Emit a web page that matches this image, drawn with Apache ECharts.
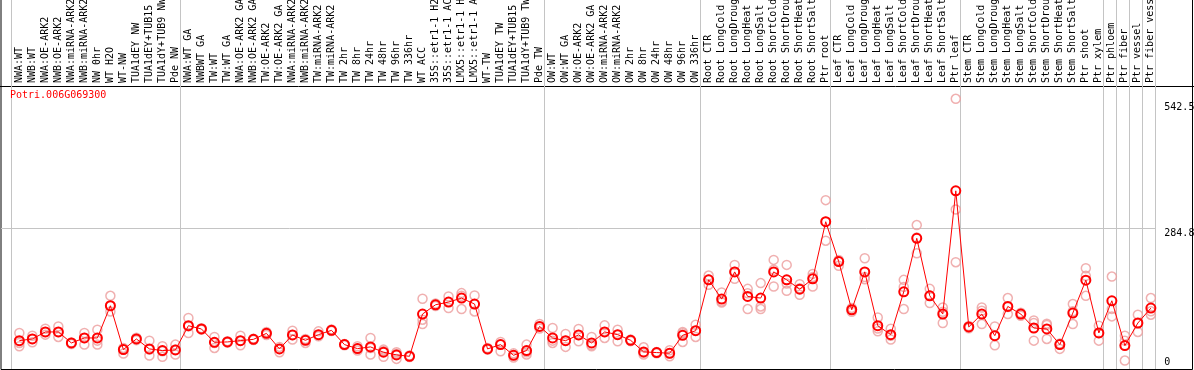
<!DOCTYPE html>
<html>
<head>
<meta charset="utf-8">
<title>Potri.006G069300</title>
<script src="https://cdn.jsdelivr.net/npm/echarts@6.0.0/dist/echarts.min.js"></script>
<style>
  html, body { margin: 0; padding: 0; background: #fff; }
  #main { width: 1194px; height: 370px; }
</style>
</head>
<body>
<div id="main"></div>
<script>
// sample names, in drawing order
var sampleNames = ['NWA:WT', 'NWB:WT', 'NWA:OE-ARK2', 'NWB:OE-ARK2', 'NWA:miRNA-ARK2', 'NWB:miRNA-ARK2', 'NW 0hr', 'WT H2O', 'WT-NW', 'TUA1dEY NW', 'TUA1dEY+TUB15 NW', 'TUA1dY+TUB9 NW', 'Pde NW',
	'NWA:WT GA', 'NWBWT GA', 'TW:WT', 'TW:WT GA', 'NWA:OE-ARK2 GA', 'NWB:OE-ARK2 GA', 'TW:OE-ARK2', 'TW:OE-ARK2 GA', 'NWA:miRNA-ARK2 GA', 'NWB:miRNA-ARK2 GA', 'TW:miRNA-ARK2', 'TW:miRNA-ARK2 GA',
	'TW 2hr', 'TW 8hr', 'TW 24hr', 'TW 48hr', 'TW 96hr', 'TW 336hr', 'WT ACC', '35S::etr1-1 H2O', '35S::etr1-1 ACC', 'LMX5::etr1-1 H2O', 'LMX5::etr1-1 ACC', 'WT-TW', 'TUA1dEY TW', 'TUA1dEY+TUB15 TW', 'TUA1dY+TUB9 TW', 'Pde TW',
	'OW:WT', 'OW:WT GA', 'OW:OE-ARK2', 'OW:OE-ARK2 GA', 'OW:miRNA-ARK2', 'OW:miRNA-ARK2 GA', 'OW 2hr', 'OW 8hr', 'OW 24hr', 'OW 48hr', 'OW 96hr', 'OW 336hr',
	'Root CTR', 'Root LongCold', 'Root LongDrought', 'Root LongHeat', 'Root LongSalt', 'Root ShortCold', 'Root ShortDrought', 'Root ShortHeat', 'Root ShortSalt', 'Ptr root',
	'Leaf CTR', 'Leaf LongCold', 'Leaf LongDrought', 'Leaf LongHeat', 'Leaf LongSalt', 'Leaf ShortCold', 'Leaf ShortDrought', 'Leaf ShortHeat', 'Leaf ShortSalt', 'Ptr leaf',
	'Stem CTR', 'Stem LongCold', 'Stem LongDrought', 'Stem LongHeat', 'Stem LongSalt', 'Stem ShortCold', 'Stem ShortDrought', 'Stem ShortHeat', 'Stem ShortSalt', 'Ptr shoot', 'Ptr xylem',
	'Ptr phloem', 'Ptr fiber', 'Ptr vessel', 'Ptr fiber vessel'];

// index of the first sample of every block (last one = end)
var groupStarts = [0, 13, 41, 53, 63, 73, 84, 85, 86, 87, 88];

// mean expression per sample
var meanValues = [55, 58.5, 72.8, 72.8, 50.3, 60.5, 60.5, 126.4, 36.7, 58.5, 38.1, 34.7, 36,
	85.6, 78.9, 51.6, 52.4, 55, 57.7, 69.9, 38.1, 66.6, 55.7, 67.3, 76.1,
	46.9, 38.7, 42.2, 31.3, 25.8, 23, 109.4, 128.4, 133.9, 142.1, 129.9, 38.1, 46.9, 25.1, 34.7, 84.2,
	60.5, 55, 66.6, 50.3, 72.8, 67.3, 55.7, 32, 30.6, 29.2, 65.9, 75.4,
	179.4, 140, 195.7, 145.4, 142.1, 195.7, 179.4, 160.4, 181.4, 298.3,
	216.7, 118.2, 195.7, 85.6, 67.3, 154.9, 264.4, 146.8, 109.4, 361.5,
	83, 109.4, 65.2, 125, 109.4, 80.9, 78.9, 46.9, 111.5, 178.8, 70.7,
	136.6, 44.9, 91.1, 121.7];

// single replicates per sample
var replicates = [
	[70.7, 50.3, 43.5], [65.2, 58.5, 51.6], [79.5, 72.8, 67.3], [84.2, 72.8, 62.6], [51, 50.3, 48.3], [70.7, 60.5, 46.9], [77.5, 55, 46.9],
	[146.8, 126.4, 114.8], [40.1, 36.7, 28.5], [61, 58.5, 56], [55, 36.7, 24.5], [43.5, 33.3, 22.1], [46.9, 36.7, 26.5],
	[101.3, 84.2, 70.7], [80.5, 78.9, 77.5], [62.6, 50.3, 40.1], [54, 52.4, 51], [65.2, 55, 45.5], [59, 57.7, 56.5], [72.8, 69.9, 66.6],
	[42.2, 38.1, 31.3], [75.4, 66.6, 57.1], [58.5, 55.7, 50.3], [74, 67.3, 63.8], [78, 76.1, 74.8],
	[48.3, 46.9, 45.5], [43.5, 38.7, 34.7], [60.5, 40, 26.5], [36.7, 34, 22], [31.3, 28, 17.7], [24.5, 23, 21.5],
	[140.7, 97.9, 89], [131, 128.4, 125.7], [145.4, 133.9, 121.7], [152.3, 146.8, 119.7], [147.4, 129.9, 114.8],
	[40, 38.1, 36.7], [52.4, 46.9, 33.2], [29, 25.1, 20.5], [46.9, 31.3, 26.5], [88.9, 84.2, 80],
	[80.9, 55, 50.3], [68.7, 55, 42.2], [78.9, 66.6, 53.6], [62.6, 46, 43.5], [86.3, 72.8, 60.5], [77.5, 67.3, 53.6],
	[57.1, 55.7, 54], [41.4, 30, 26.5], [32, 30.6, 29.2], [35.3, 29.2, 23], [72.8, 70, 52.4], [87.7, 75.4, 62.6],
	[188.2, 180, 169.2], [153.5, 135, 133.1], [210, 196, 181.4], [161, 152, 119.7], [172.7, 125, 119.7],
	[220.2, 200, 165.8], [210, 172, 157], [170.6, 162, 148.8], [191.6, 185, 165.8], [342.5, 298.3, 259.5],
	[220, 216.7, 208], [122, 118.2, 114], [223.6, 185, 180.8], [102.5, 80, 74], [79.5, 65, 57.1],
	[179.4, 165, 119.7], [291.5, 266, 233.8], [161, 146.8, 131.9], [122.9, 114, 91.1], [549.8, 323.5, 215.5],
	[85, 83, 80.5], [122.9, 116, 89], [84.2, 65.2, 45.5], [142.1, 124, 109.4], [112, 109.4, 106],
	[96.4, 91, 55], [89.7, 87, 58.5], [49, 46.9, 38.1], [129.9, 115, 89], [203.3, 187.6, 146.8], [85.6, 70.7, 55],
	[186.1, 120, 104.6], [65.2, 55, 14.3], [108.1, 91.1, 72.8], [142.1, 115, 108.1]];

var yTicks = [284.8, 542.5];
var geneName = 'Potri.006G069300';

var FONT = 'DejaVu Sans Mono';
var OFF = 0.66;       // separators sit a bit left of the sample column
var xMin = -1.41;
var xMax = 88 - OFF;
var yMin = -3, yMax = 576;

var sampleIdx = sampleNames.map(function(n, i) { return i; });
var separators = groupStarts.map(function(k) { return k - OFF; });

var repPoints = [];
replicates.forEach(function(r, i) {
	r.forEach(function(v) { repPoints.push([i, v]); });
});

var myChart = echarts.init(document.getElementById('main'));
myChart.setOption({
	animation: false,
	backgroundColor: '#fff',
	title: {
		text: geneName,
		left: 10,
		top: 90,
		padding: 0,
		textStyle: { color: '#ff0000', fontFamily: FONT, fontSize: 10, fontWeight: 'normal' }
	},
	grid: [
		{ left: 1, right: 38.7, top: 86, bottom: 1, containLabel: false, outerBoundsMode: 'none' },
		{ left: 1, right: 38.7, top: 0, height: 86, containLabel: false, outerBoundsMode: 'none' }
	],
	xAxis: [{
		type: 'value',
		gridIndex: 0,
		position: 'top',
		min: xMin,
		max: xMax,
		axisLine: { show: false },
		axisTick: { show: false, customValues: separators },
		splitLine: { show: true, lineStyle: { color: '#c4c4c4', width: 1 } },
		axisLabel: {
			customValues: sampleIdx,
			formatter: function(v) { return sampleNames[Math.round(v)]; },
			rotate: 90,
			margin: 3,
			color: '#000',
			fontFamily: FONT,
			fontSize: 10
		}
	}, {
		type: 'value',
		gridIndex: 1,
		min: xMin,
		max: xMax,
		axisLine: { show: false },
		axisLabel: { show: false },
		axisTick: { show: false, customValues: separators },
		splitLine: { show: true, lineStyle: { color: '#c4c4c4', width: 1 } }
	}],
	yAxis: [{
		type: 'value',
		gridIndex: 0,
		position: 'right',
		min: yMin,
		max: yMax,
		axisLine: { show: false },
		axisTick: { show: false, customValues: [yTicks[0]] },
		splitLine: { show: true, lineStyle: { color: '#c4c4c4', width: 1 } },
		axisLabel: {
			customValues: yTicks,
			verticalAlign: 'top',
			margin: 9,
			color: '#000',
			fontFamily: FONT,
			fontSize: 10
		}
	}, {
		type: 'value',
		gridIndex: 0,
		position: 'right',
		min: yMin,
		max: yMax,
		axisLine: { show: false },
		axisTick: { show: false },
		splitLine: { show: false },
		axisLabel: {
			customValues: [0],
			verticalAlign: 'bottom',
			margin: 9,
			color: '#000',
			fontFamily: FONT,
			fontSize: 10
		}
	}, {
		type: 'value',
		gridIndex: 1,
		show: false,
		min: 0,
		max: 1
	}],
	graphic: [{
		type: 'rect',
		silent: true,
		shape: { x: 1, y: -1, width: 1191.5, height: 370.5 },
		style: { fill: 'none', stroke: '#000', lineWidth: 1 }
	}, {
		type: 'line',
		silent: true,
		shape: { x1: 0, y1: 86.5, x2: 1194, y2: 86.5 },
		style: { stroke: '#000', lineWidth: 1 }
	}],
	series: [{
		type: 'scatter',
		xAxisIndex: 0,
		yAxisIndex: 0,
		data: repPoints,
		symbol: 'circle',
		symbolSize: 9,
		silent: true,
		z: 2,
		itemStyle: { color: 'rgba(0,0,0,0)', borderColor: '#ec9c9c', borderWidth: 1.5 }
	}, {
		type: 'line',
		xAxisIndex: 0,
		yAxisIndex: 0,
		data: meanValues.map(function(v, i) { return [i, v]; }),
		symbol: 'circle',
		symbolSize: 9,
		showAllSymbol: true,
		silent: true,
		z: 3,
		lineStyle: { color: '#ff0000', width: 1 },
		itemStyle: { color: 'rgba(0,0,0,0)', borderColor: '#ff0000', borderWidth: 2 }
	}]
});
</script>
</body>
</html>
